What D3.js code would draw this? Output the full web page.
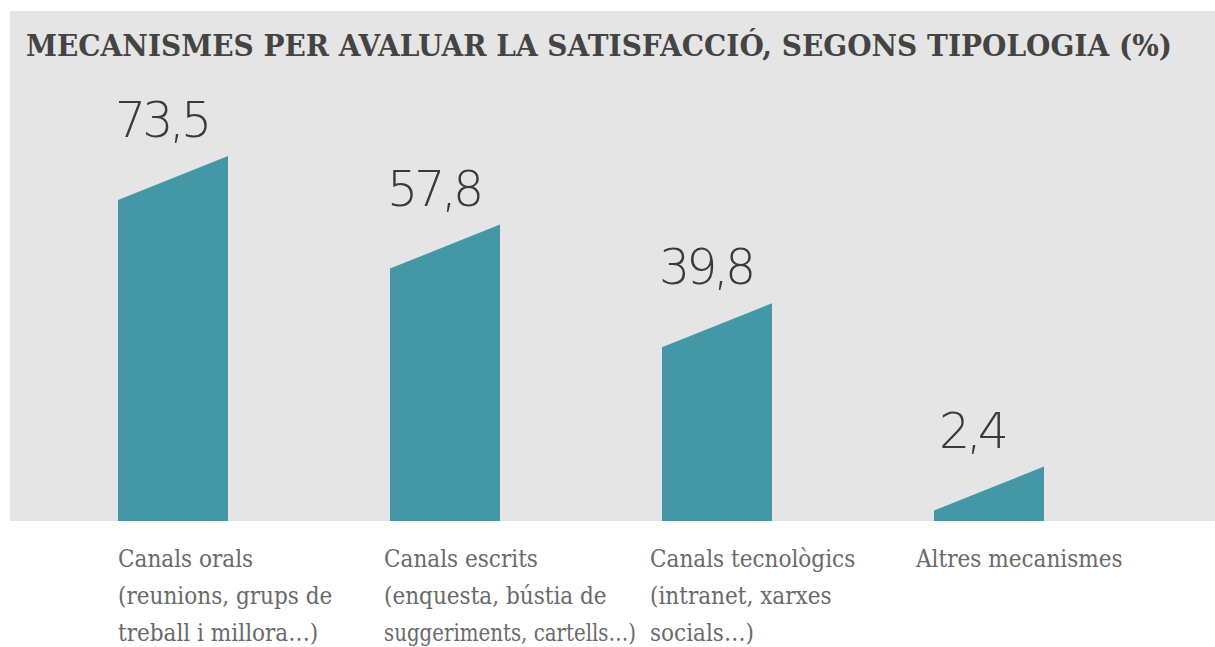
<!DOCTYPE html>
<html>
<head>
<meta charset="utf-8">
<script src="https://cdn.jsdelivr.net/npm/d3@7"></script>
<style>
  html, body { margin: 0; padding: 0; background: #ffffff; }
  svg { display: block; }
</style>
</head>
<body>
<svg id="chart" width="1215" height="647"></svg>
<script>
// Mecanismes per avaluar la satisfacció (%)
const title = "MECANISMES PER AVALUAR LA SATISFACCIÓ, SEGONS TIPOLOGIA (%)";
const categories = ["orals", "escrits", "tecnologics", "altres"];
const values = [73.5, 57.8, 39.8, 2.4];
const valueLabels = ["73,5", "57,8", "39,8", "2,4"];
const categoryLines = [
  ["Canals orals", "(reunions, grups de", "treball i millora…)"],
  ["Canals escrits", "(enquesta, bústia de", "suggeriments, cartells…)"],
  ["Canals tecnològics", "(intranet, xarxes", "socials…)"],
  ["Altres mecanismes"]
];

const panel = { x: 10, y: 11, w: 1205, h: 510 };
const baseY = panel.y + panel.h;     // bars stand on the bottom of the grey panel
const slant = 44;                     // rise of the bevelled bar top
const teal = "#4498a6";

const svg = d3.select("#chart");

svg.append("rect")
  .attr("x", panel.x).attr("y", panel.y)
  .attr("width", panel.w).attr("height", panel.h)
  .attr("fill", "#e5e5e5");

svg.append("text")
  .attr("x", 26).attr("y", 56)
  .attr("font-family", "'DejaVu Serif', serif")
  .attr("font-weight", "bold")
  .attr("font-size", 29)
  .attr("fill", "#444444")
  .attr("textLength", 1146)
  .attr("lengthAdjust", "spacingAndGlyphs")
  .text(title);

// bar slots
const x = d3.scaleBand()
  .domain(categories)
  .range([118, 1044])
  .paddingInner(162 / 272)
  .paddingOuter(0);

// category captions sit on a slightly tighter rhythm than the bars
const xLabel = d3.scalePoint()
  .domain(categories)
  .range([118, 916]);

const y = d3.scaleLinear()
  .domain([0, 73.5])
  .range([baseY, baseY - 321]);

const data = categories.map((c, i) => ({ c, v: values[i], label: valueLabels[i], lines: categoryLines[i] }));

svg.append("g").selectAll("path")
  .data(data)
  .join("path")
  .attr("fill", teal)
  .attr("d", d => {
    const x0 = x(d.c), x1 = x0 + x.bandwidth();
    const yl = y(d.v), yr = y(d.v) - slant;
    return `M${x0},${baseY}L${x0},${yl}L${x1},${yr}L${x1},${baseY}Z`;
  });

svg.append("g").selectAll("text")
  .data(data)
  .join("text")
  .attr("x", d => x(d.c) - 3 + (d.v < 10 ? 8 : 0))
  .attr("y", d => y(d.v) - slant - 19)
  .attr("font-family", "'DejaVu Sans', sans-serif")
  .attr("font-weight", 200)
  .attr("font-size", 49)
  .attr("letter-spacing", -4)
  .attr("fill", "#3a3a3a")
  .text(d => d.label);

// captions: one text per line, squeezed if a line would run into the next column
const maxLineW = xLabel.step() - 14;
const labelG = svg.append("g");
data.forEach(d => {
  d.lines.forEach((s, i) => {
    const t = labelG.append("text")
      .attr("x", xLabel(d.c))
      .attr("y", 567 + i * 37)
      .attr("font-family", "'DejaVu Serif Condensed', 'DejaVu Serif', serif")
      .attr("font-size", 24)
      .attr("fill", "#6a6a6a")
      .text(s);
    if (t.node().getComputedTextLength() > maxLineW) {
      t.attr("textLength", maxLineW).attr("lengthAdjust", "spacingAndGlyphs");
    }
  });
});
</script>
</body>
</html>
